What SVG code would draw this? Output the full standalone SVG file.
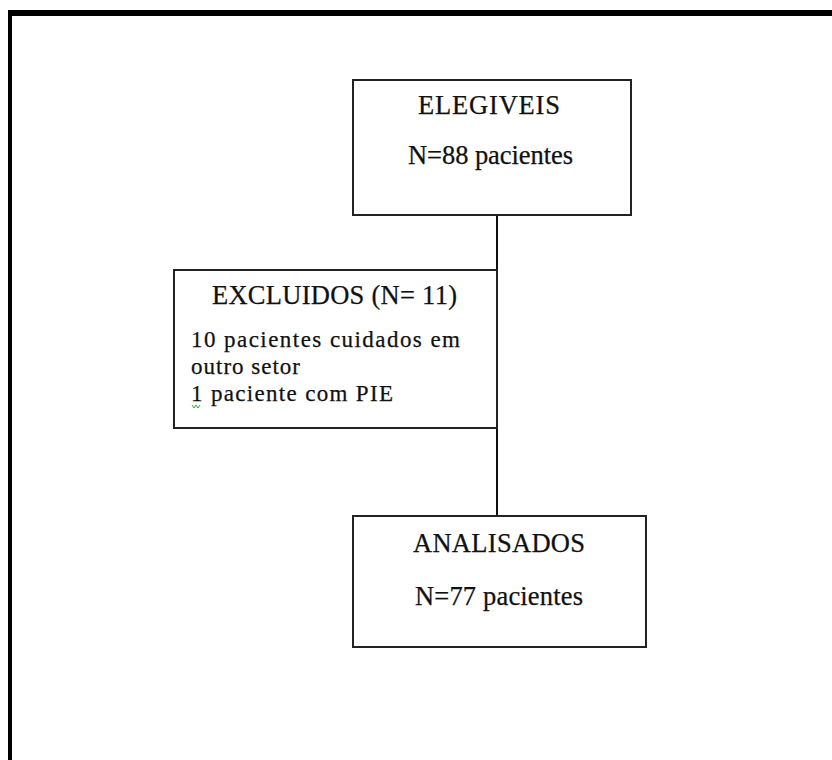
<svg xmlns="http://www.w3.org/2000/svg" width="832" height="760" viewBox="0 0 832 760">
<style>
.box{fill:#fff;stroke:#222;stroke-width:2}
.t{font-family:"Liberation Serif","Times New Roman",serif;font-size:26.5px;fill:#111;stroke:#111;stroke-width:0.25}
.s{font-size:23px}
.c{stroke:#111;stroke-width:2;fill:none}
</style>
<rect x="0" y="0" width="832" height="760" fill="#fff"/>
<g id="frame">
<rect x="8" y="10" width="824" height="6" fill="#000"/>
<rect x="8" y="10" width="4" height="750" fill="#000"/>
</g>
<g id="connectors">
<line class="c" x1="497" y1="215" x2="497" y2="516"/>
</g>
<g id="elegiveis">
<rect class="box" x="353" y="80" width="278" height="135"/>
<text class="t" x="418" y="114" textLength="142">ELEGIVEIS</text>
<text class="t" x="408" y="164" textLength="165">N=88 pacientes</text>
</g>
<g id="excluidos">
<rect class="box" x="174" y="270" width="323" height="158"/>
<text class="t" x="212" y="304" textLength="245">EXCLUIDOS (N= 11)</text>
<text class="t s" x="191" y="347" textLength="269">10 pacientes cuidados em</text>
<text class="t s" x="191" y="374" textLength="109">outro setor</text>
<text class="t s" x="191" y="401" textLength="202">1 paciente com PIE</text>
<polyline points="192,405 194,408 196,405 198,408 200,405" fill="none" stroke="#3a3" stroke-width="1"/>
</g>
<g id="analisados">
<rect class="box" x="353" y="516" width="293" height="131"/>
<text class="t" x="413" y="552" textLength="172">ANALISADOS</text>
<text class="t" x="415" y="605" textLength="168">N=77 pacientes</text>
</g>
</svg>
